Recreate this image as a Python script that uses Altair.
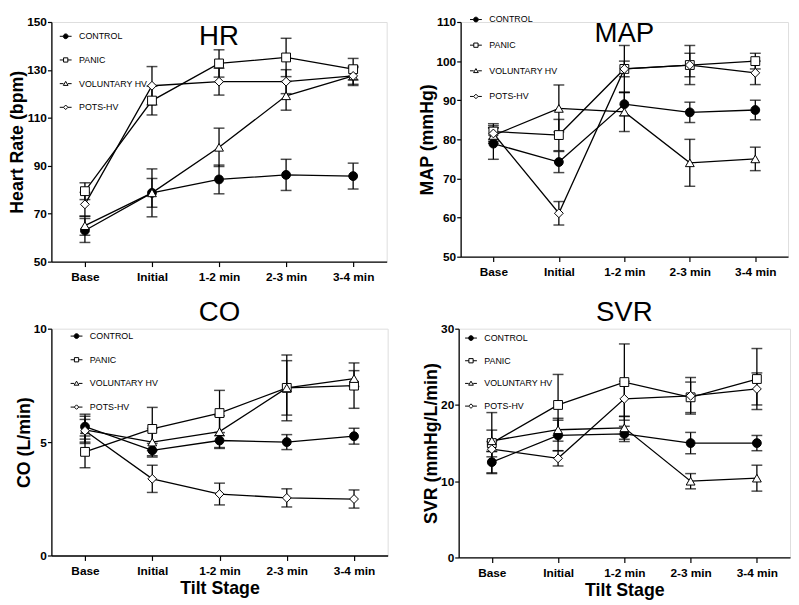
import altair as alt
import pandas as pd

stages = ["Base", "Initial", "1-2 min", "2-3 min", "3-4 min"]
groups = ["CONTROL", "PANIC", "VOLUNTARY HV", "POTS-HV"]

# Heart rate (bpm)
hr_mean = {
    "CONTROL": [63.0, 78.7, 84.3, 86.2, 85.7],
    "PANIC": [79.4, 117.2, 132.7, 135.2, 130.3],
    "VOLUNTARY HV": [65.0, 78.7, 97.7, 119.2, 127.5],
    "POTS-HV": [73.9, 123.4, 125.1, 125.1, 127.5],
}
hr_err = {
    "CONTROL": [5.0, 10.0, 6.0, 6.5, 5.4],
    "PANIC": [3.5, 6.0, 5.7, 8.0, 4.5],
    "VOLUNTARY HV": [4.0, 6.0, 8.0, 6.0, 3.5],
    "POTS-HV": [5.0, 8.0, 5.6, 5.0, 4.0],
}

# Mean arterial pressure (mmHg)
map_mean = {
    "CONTROL": [78.9, 74.2, 89.0, 86.9, 87.5],
    "PANIC": [82.0, 81.1, 98.0, 99.0, 100.0],
    "VOLUNTARY HV": [81.0, 87.9, 87.0, 74.0, 75.0],
    "POTS-HV": [81.5, 61.1, 98.0, 99.0, 97.0],
}
map_err = {
    "CONTROL": [4.0, 2.7, 3.0, 2.6, 2.5],
    "PANIC": [2.0, 4.0, 6.0, 3.0, 2.0],
    "VOLUNTARY HV": [2.0, 6.0, 5.0, 6.0, 3.0],
    "POTS-HV": [2.0, 3.0, 2.0, 5.0, 3.0],
}

# Cardiac output (L/min)
co_mean = {
    "CONTROL": [5.68, 4.64, 5.07, 5.0, 5.26],
    "PANIC": [4.57, 5.58, 6.28, 7.39, 7.49],
    "VOLUNTARY HV": [5.54, 5.0, 5.46, 7.39, 7.8],
    "POTS-HV": [5.5, 3.38, 2.71, 2.54, 2.49],
}
co_err = {
    "CONTROL": [0.55, 0.3, 0.35, 0.33, 0.35],
    "PANIC": [0.7, 0.95, 1.0, 1.45, 1.0],
    "VOLUNTARY HV": [0.6, 0.6, 0.7, 1.2, 0.35],
    "POTS-HV": [0.5, 0.6, 0.48, 0.4, 0.4],
}

# Systemic vascular resistance (mmHg/L/min)
svr_mean = {
    "CONTROL": [12.5, 16.0, 16.2, 15.0, 15.0],
    "PANIC": [15.0, 20.0, 23.0, 21.0, 23.4],
    "VOLUNTARY HV": [15.3, 16.75, 17.0, 10.0, 10.4],
    "POTS-HV": [14.2, 13.0, 20.8, 21.2, 22.1],
}
svr_err = {
    "CONTROL": [1.4, 2.0, 1.0, 1.4, 1.0],
    "PANIC": [4.0, 4.0, 5.0, 2.0, 4.0],
    "VOLUNTARY HV": [1.4, 1.5, 1.5, 1.0, 1.7],
    "POTS-HV": [1.0, 1.0, 2.3, 2.4, 2.1],
}

FONT = "Liberation Sans"

marker_shapes = ["circle", "square", "triangle-up", "diamond"]
marker_fills = ["black", "white", "white", "white"]
# legend keys: a short line with the marker on it ("-o-")
legend_shapes = [
    "M-1,0H-0.4M0.4,0H1M-0.4,0A0.4,0.4 0 1,0 0.4,0A0.4,0.4 0 1,0 -0.4,0Z",
    "M-1,0H-0.36M0.36,0H1M-0.36,-0.36H0.36V0.36H-0.36Z",
    "M-1,0H-0.38M0.38,0H1M0,-0.38L0.4,0.3H-0.4Z",
    "M-1,0H-0.38M0.38,0H1M0,-0.38L0.38,0L0,0.38L-0.38,0Z",
]


def to_frame(means, errs):
    rows = []
    for g in groups:
        for i, s in enumerate(stages):
            m = means[g][i]
            e = errs[g][i]
            rows.append({"group": g, "stage": s, "mean": m, "lo": m - e, "hi": m + e})
    return pd.DataFrame(rows)


def panel(means, errs, title, ytitle, ydomain, yticks, width, height, legpos, toff, xtitle=None):
    df = to_frame(means, errs)
    axis_common = dict(
        labelAngle=0,
        labelFont=FONT,
        labelFontSize=12,
        labelFontWeight="bold",
        labelColor="black",
        labelPadding=5,
        domainColor="black",
        domainWidth=1.3,
        tickColor="black",
        tickWidth=1.2,
        tickSize=5,
        grid=False,
    )
    if xtitle:
        xaxis = alt.Axis(
            title=xtitle,
            titleFont=FONT,
            titleFontSize=18,
            titleFontWeight="bold",
            titleColor="black",
            titlePadding=4,
            **axis_common,
        )
    else:
        xaxis = alt.Axis(title=None, **axis_common)
    x = alt.X("stage:N", sort=stages, scale=alt.Scale(type="point", padding=0.5), axis=xaxis)
    yscale = alt.Scale(domain=ydomain, nice=False, zero=False)
    yaxis = alt.Axis(
        title=ytitle,
        values=yticks,
        labelOverlap=False,
        labelFont=FONT,
        labelFontSize=12,
        labelFontWeight="bold",
        labelColor="black",
        labelPadding=1,
        titleFont=FONT,
        titleFontSize=18,
        titleFontWeight="bold",
        titleColor="black",
        titlePadding=0,
        domainColor="black",
        domainWidth=1.3,
        tickColor="black",
        tickWidth=1.2,
        tickSize=4,
        grid=False,
    )
    base = alt.Chart(df).encode(x=x)
    lines = base.mark_line(color="black", strokeWidth=1.3).encode(
        y=alt.Y("mean:Q", scale=yscale, axis=yaxis), detail="group:N"
    )
    bars = base.mark_rule(color="black", strokeWidth=1.3).encode(
        y=alt.Y("lo:Q", scale=yscale, axis=yaxis), y2="hi:Q"
    )
    cap_lo = base.mark_tick(color="black", size=11, thickness=1.5, orient="horizontal").encode(
        y=alt.Y("lo:Q", scale=yscale, axis=yaxis)
    )
    cap_hi = base.mark_tick(color="black", size=11, thickness=1.5, orient="horizontal").encode(
        y=alt.Y("hi:Q", scale=yscale, axis=yaxis)
    )
    pts = base.mark_point(filled=False, strokeWidth=1, size=80, opacity=1).encode(
        y=alt.Y("mean:Q", scale=yscale, axis=yaxis),
        shape=alt.Shape("group:N", scale=alt.Scale(domain=groups, range=marker_shapes), legend=None),
        fill=alt.Fill("group:N", scale=alt.Scale(domain=groups, range=marker_fills), legend=None),
        stroke=alt.Stroke("group:N", scale=alt.Scale(domain=groups, range=["black"] * 4), legend=None),
    )
    lx, ly, rp = legpos
    leg = alt.Legend(
        title=None,
        orient="none",
        legendX=lx,
        legendY=ly,
        labelFont=FONT,
        labelFontSize=9,
        labelColor="black",
        symbolSize=144,
        symbolStrokeWidth=1,
        rowPadding=rp,
        labelOffset=7,
    )
    # legend-only layer: its rows are filtered away, the legend comes from the scale domain
    key = base.transform_filter("false").mark_point(filled=False, strokeWidth=1, opacity=1).encode(
        y=alt.Y("mean:Q", scale=yscale, axis=yaxis),
        shape=alt.Shape("group:N", sort=groups, scale=alt.Scale(domain=groups, range=legend_shapes), legend=leg),
        fill=alt.Fill("group:N", sort=groups, scale=alt.Scale(domain=groups, range=marker_fills), legend=leg),
        stroke=alt.Stroke("group:N", sort=groups, scale=alt.Scale(domain=groups, range=["black"] * 4), legend=leg),
    )
    return alt.layer(lines, bars, cap_lo, cap_hi, pts, key).resolve_scale(
        shape="independent", fill="independent", stroke="independent"
    ).properties(
        width=width,
        height=height,
        title=alt.TitleParams(
            text=title, font=FONT, fontSize=28, fontWeight="normal", color="black",
            anchor="middle", offset=toff,
        ),
    )


hr = panel(hr_mean, hr_err, "HR", "Heart Rate (bpm)", [50, 150], [50, 70, 90, 110, 130, 150],
           340, 243, (8, 8, 12), -35)
mp = panel(map_mean, map_err, "MAP", "MAP (mmHg)", [50, 110], [50, 60, 70, 80, 90, 100, 110],
           332, 238, (9, -9, 14), -35)
co = panel(co_mean, co_err, "CO", "CO (L/min)", [0, 10], [0, 5, 10],
           341, 230, (19, 1, 12), -4, "Tilt Stage")
svr = panel(svr_mean, svr_err, "SVR", "SVR (mmHg/L/min)", [0, 30], [0, 10, 20, 30],
            336, 232, (6, 3, 11), -4, "Tilt Stage")

res = dict(shape="independent", fill="independent", stroke="independent")
top = alt.hconcat(hr, mp, spacing=30).resolve_legend(**res).resolve_scale(**res)
bottom = alt.hconcat(co, svr, spacing=34).resolve_legend(**res).resolve_scale(**res)

chart = alt.vconcat(top, bottom, spacing=15).resolve_legend(**res).resolve_scale(**res).properties(
    padding={"left": 0, "top": 0, "right": 0, "bottom": 0}
).configure_view(strokeWidth=0).configure(background="white")

chart.save("out.html", embed_options={"renderer": "svg", "actions": False})
